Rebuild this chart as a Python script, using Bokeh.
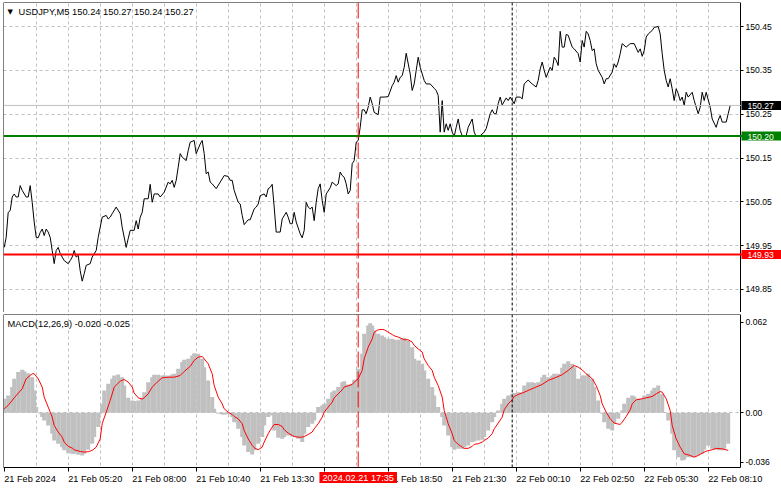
from bokeh.plotting import figure
from bokeh.layouts import column
from bokeh.models import (Range1d, FixedTicker, Span, Label, Grid, NumeralTickFormatter, LinearAxis,
                          BoxAnnotation)
from bokeh.embed import file_html
from bokeh.resources import INLINE

# ---------------- data (bar index = 5-minute bar number from the chart's left edge) -------------
price_bars = [0, 1, 2, 3, 4, 5, 6, 7, 8, 9, 11, 12, 13, 14, 15, 16, 17, 18, 19, 20, 21, 22, 23, 24, 25,
              26, 27, 28, 29, 30, 32, 33, 34, 35, 36, 37, 38, 39, 40, 41, 43, 44, 46, 47, 48, 49, 51, 52,
              53, 54, 56, 58, 59, 61, 62, 63, 65, 66, 67, 68, 69, 70, 72, 73, 74, 75, 77, 78, 80, 82, 83,
              84, 85, 86, 87, 88, 89, 91, 92, 93, 95, 96, 98, 99, 100, 101, 102, 103, 104, 106, 108, 110,
              112, 113, 114, 115, 117, 118, 119, 120, 122, 123, 125, 126, 127, 128, 130, 131, 132, 133,
              134, 135, 136, 138, 139, 141, 142, 143, 144, 145, 146, 148, 149, 150, 151, 152, 153, 154,
              155, 156, 157, 158, 159, 160, 161, 163, 164, 166, 167, 168, 169, 170, 171, 172, 173, 174,
              175, 176, 177, 178, 179, 180, 181, 182, 183, 184, 185, 187, 188, 190, 192, 194, 195, 196,
              197, 198, 199, 200, 201, 203, 204, 205, 206, 207, 208, 210, 211, 213, 215, 216, 217, 218,
              219, 220, 221, 222, 223, 224, 225, 226, 227, 228, 229, 231, 232, 234, 235, 236, 238, 240,
              241, 243, 244, 245, 246, 247, 248, 249, 251, 252, 253, 255, 256, 258, 259, 260, 262, 263,
              264, 266, 267, 268, 269, 270, 271, 273, 274, 275, 276, 277, 278, 279, 280, 281, 282, 284,
              285, 287, 288, 289, 290, 291, 292, 293, 294, 295, 296, 297, 299, 300, 301, 302, 304, 305,
              306, 307, 308, 309, 311, 313, 315, 317, 318, 319, 320, 321, 322, 323, 324, 325, 327, 328,
              329, 330, 331, 332, 333, 334, 335, 336, 337, 338, 339, 340, 341, 342, 344, 345, 347, 348,
              349, 350, 351, 353, 354, 356, 357, 358, 359, 361, 362, 363]
price_close = [149.946, 149.969, 150.026, 150.030, 150.061, 150.068, 150.061, 150.061, 150.087, 150.076,
               150.061, 150.061, 150.087, 150.049, 150.004, 149.969, 149.968, 149.980, 149.988, 149.973,
               149.988, 149.981, 149.969, 149.939, 149.909, 149.939, 149.946, 149.932, 149.924, 149.916,
               149.909, 149.916, 149.924, 149.939, 149.924, 149.928, 149.893, 149.869, 149.886, 149.905,
               149.909, 149.924, 149.939, 149.969, 149.992, 150.015, 150.019, 150.011, 150.015, 150.023,
               150.038, 150.023, 149.992, 149.946, 149.966, 149.985, 149.985, 150.007, 149.988, 150.015,
               150.026, 150.057, 150.057, 150.090, 150.049, 150.068, 150.068, 150.061, 150.072, 150.095,
               150.091, 150.099, 150.083, 150.099, 150.129, 150.160, 150.152, 150.144, 150.167, 150.186,
               150.190, 150.160, 150.182, 150.190, 150.160, 150.114, 150.118, 150.095, 150.091, 150.080,
               150.095, 150.110, 150.108, 150.099, 150.099, 150.076, 150.049, 150.045, 150.019, 149.998,
               150.009, 150.009, 150.034, 150.038, 150.045, 150.064, 150.068, 150.061, 150.080, 150.083,
               150.090, 150.038, 149.981, 149.981, 150.011, 150.026, 150.015, 150.000, 150.000, 150.026,
               150.004, 149.977, 149.968, 149.985, 150.049, 150.038, 150.034, 150.038, 150.007, 150.049,
               150.080, 150.091, 150.053, 150.026, 150.068, 150.082, 150.095, 150.087, 150.091, 150.118,
               150.110, 150.106, 150.091, 150.068, 150.076, 150.137, 150.144, 150.186, 150.190, 150.220,
               150.260, 150.260, 150.251, 150.266, 150.289, 150.274, 150.254, 150.249, 150.289, 150.289,
               150.290, 150.315, 150.323, 150.338, 150.323, 150.334, 150.338, 150.357, 150.389, 150.342,
               150.304, 150.319, 150.350, 150.380, 150.357, 150.327, 150.319, 150.319, 150.309, 150.304,
               150.293, 150.209, 150.281, 150.209, 150.228, 150.213, 150.228, 150.209, 150.199, 150.220,
               150.239, 150.213, 150.201, 150.201, 150.220, 150.239, 150.209, 150.199, 150.201, 150.209,
               150.217, 150.251, 150.260, 150.251, 150.251, 150.274, 150.289, 150.271, 150.287, 150.281,
               150.289, 150.274, 150.289, 150.289, 150.285, 150.319, 150.328, 150.323, 150.319, 150.312,
               150.327, 150.353, 150.369, 150.350, 150.334, 150.357, 150.350, 150.380, 150.373, 150.361,
               150.439, 150.403, 150.403, 150.432, 150.430, 150.403, 150.399, 150.388, 150.369, 150.418,
               150.403, 150.439, 150.433, 150.418, 150.395, 150.399, 150.365, 150.350, 150.334, 150.319,
               150.331, 150.331, 150.346, 150.365, 150.357, 150.369, 150.388, 150.411, 150.403, 150.411,
               150.411, 150.391, 150.399, 150.382, 150.395, 150.426, 150.433, 150.437, 150.441, 150.448,
               150.450, 150.433, 150.388, 150.350, 150.327, 150.312, 150.331, 150.308, 150.281, 150.308,
               150.297, 150.281, 150.289, 150.270, 150.300, 150.289, 150.300, 150.281, 150.251, 150.266,
               150.300, 150.281, 150.300, 150.266, 150.239, 150.220, 150.236, 150.247, 150.232, 150.232,
               150.251, 150.270]

hist_bars = [0, 2, 4, 5, 7, 9, 10, 12, 14, 15, 16, 17, 18, 19, 20, 22, 24, 25, 27, 29, 30, 32, 34, 35, 37,
             39, 40, 42, 44, 45, 47, 48, 49, 50, 52, 54, 55, 57, 59, 60, 62, 64, 65, 67, 69, 70, 72, 74,
             75, 77, 79, 80, 82, 84, 85, 87, 89, 90, 92, 94, 95, 97, 99, 100, 102, 104, 105, 107, 109,
             110, 112, 114, 115, 117, 119, 120, 122, 124, 125, 127, 129, 130, 132, 134, 135, 137, 139,
             140, 142, 144, 145, 147, 149, 150, 152, 154, 155, 157, 159, 160, 162, 164, 165, 167, 169,
             170, 172, 174, 175, 177, 179, 180, 182, 183, 184, 185, 187, 189, 190, 192, 194, 195, 197,
             199, 200, 202, 204, 205, 207, 209, 210, 212, 214, 215, 217, 219, 220, 222, 224, 225, 227,
             229, 230, 232, 234, 235, 237, 239, 240, 242, 244, 245, 247, 249, 250, 252, 254, 255, 257,
             259, 260, 262, 264, 265, 267, 269, 270, 272, 274, 275, 277, 279, 280, 282, 284, 285, 287,
             289, 290, 292, 294, 295, 297, 299, 300, 302, 304, 305, 307, 309, 310, 312, 314, 315, 317,
             319, 320, 322, 324, 325, 327, 329, 330, 332, 334, 335, 337, 339, 340, 342, 344, 345, 347,
             349, 350, 352, 354, 355, 357, 359, 360, 362]
macd_hist = [0.0091, 0.0112, 0.0167, 0.0221, 0.0264, 0.0279, 0.0270, 0.0257, 0.0231, 0.0145, 0.0037,
             0.0, -0.0006, -0.0028, -0.0050, -0.0082, -0.0136, -0.0180, -0.0201, -0.0223, -0.0244,
             -0.0262, -0.0266, -0.0266, -0.0273, -0.0277, -0.0266, -0.0240, -0.0201, -0.0158, -0.0093,
             -0.0006, 0.0058, 0.0145, 0.0188, 0.0221, 0.0242, 0.0249, 0.0231, 0.0177, 0.0097, 0.0080,
             0.0076, 0.0080, 0.0097, 0.0134, 0.0199, 0.0231, 0.0247, 0.0247, 0.0242, 0.0242, 0.0242,
             0.0249, 0.0253, 0.0286, 0.0329, 0.0344, 0.0350, 0.0372, 0.0387, 0.0383, 0.0350, 0.0296,
             0.0210, 0.0102, 0.0026, -0.0006, -0.0011, -0.0011, -0.0011, -0.0028, -0.0061, -0.0104,
             -0.0158, -0.0212, -0.0255, -0.0270, -0.0244, -0.0201, -0.0158, -0.0082, -0.0028, -0.0017,
             -0.0115, -0.0162, -0.0169, -0.0158, -0.0147, -0.0154, -0.0158, -0.0169, -0.0190, -0.0136,
             -0.0093, -0.0071, -0.0050, 0.0037, 0.0048, 0.0058, 0.0091, 0.0134, 0.0145, 0.0167, 0.0199,
             0.0205, 0.0184, 0.0188, 0.0214, 0.0286, 0.0383, 0.0513, 0.0567, 0.0582, 0.0567, 0.0534,
             0.0513, 0.0502, 0.0491, 0.0480, 0.0480, 0.0474, 0.0474, 0.0480, 0.0487, 0.0469, 0.0426,
             0.0350, 0.0340, 0.0318, 0.0275, 0.0221, 0.0167, 0.0112, 0.0037, -0.0028, -0.0082, -0.0147,
             -0.0223, -0.0240, -0.0234, -0.0234, -0.0223, -0.0212, -0.0190, -0.0184, -0.0180, -0.0175,
             -0.0158, -0.0115, -0.0061, -0.0028, 0.0015, 0.0058, 0.0091, 0.0112, 0.0123, 0.0128, 0.0134,
             0.0134, 0.0177, 0.0199, 0.0199, 0.0193, 0.0199, 0.0231, 0.0247, 0.0231, 0.0242, 0.0253,
             0.0253, 0.0292, 0.0318, 0.0335, 0.0318, 0.0296, 0.0221, 0.0242, 0.0242, 0.0253, 0.0221,
             0.0167, 0.0080, -0.0006, -0.0061, -0.0104, -0.0115, -0.0071, -0.0039, 0.0015, 0.0058,
             0.0097, 0.0112, 0.0106, 0.0091, 0.0091, 0.0112, 0.0123, 0.0145, 0.0162, 0.0177, 0.0123,
             0.0004, -0.0050, -0.0136, -0.0244, -0.0288, -0.0309, -0.0305, -0.0288, -0.0288, -0.0288,
             -0.0277, -0.0266, -0.0240, -0.0212, -0.0234, -0.0240, -0.0244, -0.0244, -0.0234, -0.0201]

signal_bars = [0, 2, 5, 9, 11, 14, 15, 17, 19, 20, 22, 24, 25, 27, 29, 30, 32, 34, 35, 38, 40, 42, 44, 46,
               48, 49, 51, 53, 55, 58, 60, 62, 64, 65, 67, 69, 70, 72, 74, 77, 79, 82, 85, 88, 90, 93, 95,
               97, 99, 100, 102, 104, 105, 107, 109, 110, 112, 114, 115, 117, 119, 120, 122, 124, 125, 127,
               129, 130, 132, 134, 135, 137, 139, 140, 142, 144, 145, 147, 149, 150, 152, 154, 155, 157,
               159, 160, 162, 164, 165, 167, 169, 170, 172, 174, 175, 177, 179, 180, 182, 184, 185, 187,
               189, 190, 192, 194, 195, 197, 199, 200, 202, 204, 205, 207, 209, 210, 212, 214, 215, 217,
               219, 220, 222, 224, 225, 227, 229, 230, 232, 234, 235, 237, 239, 240, 242, 244, 245, 247,
               249, 250, 252, 254, 255, 257, 259, 262, 265, 269, 272, 275, 279, 282, 285, 287, 289, 291,
               294, 296, 298, 299, 301, 303, 305, 308, 309, 311, 313, 314, 316, 319, 321, 324, 326, 328,
               329, 331, 333, 334, 336, 338, 340, 343, 345, 347, 349, 351, 354, 356, 359, 362]
macd_signal = [0.0026, 0.0048, 0.0097, 0.0156, 0.0221, 0.0253, 0.0253, 0.0221, 0.0167, 0.0102, 0.0037,
               -0.0028, -0.0082, -0.0125, -0.0158, -0.0190, -0.0218, -0.0229, -0.0240, -0.0251, -0.0255,
               -0.0253, -0.0244, -0.0223, -0.0169, -0.0071, 0.0004, 0.0080, 0.0167, 0.0205, 0.0216,
               0.0199, 0.0167, 0.0128, 0.0097, 0.0089, 0.0097, 0.0123, 0.0167, 0.0205, 0.0227, 0.0231,
               0.0231, 0.0242, 0.0268, 0.0301, 0.0340, 0.0361, 0.0366, 0.0350, 0.0318, 0.0253, 0.0177,
               0.0102, 0.0058, 0.0026, 0.0004, -0.0011, -0.0024, -0.0039, -0.0071, -0.0115, -0.0169,
               -0.0212, -0.0227, -0.0240, -0.0223, -0.0190, -0.0136, -0.0093, -0.0076, -0.0076, -0.0089,
               -0.0110, -0.0132, -0.0147, -0.0154, -0.0158, -0.0158, -0.0154, -0.0141, -0.0125, -0.0104,
               -0.0071, -0.0028, 0.0004, 0.0037, 0.0069, 0.0097, 0.0123, 0.0149, 0.0167, 0.0175, 0.0184,
               0.0199, 0.0221, 0.0275, 0.0350, 0.0426, 0.0480, 0.0523, 0.0539, 0.0541, 0.0539, 0.0523,
               0.0508, 0.0500, 0.0491, 0.0480, 0.0474, 0.0474, 0.0459, 0.0437, 0.0415, 0.0394, 0.0350,
               0.0307, 0.0275, 0.0231, 0.0177, 0.0102, 0.0015, -0.0071, -0.0136, -0.0180, -0.0205,
               -0.0223, -0.0231, -0.0231, -0.0218, -0.0205, -0.0201, -0.0190, -0.0180, -0.0164, -0.0136,
               -0.0104, -0.0067, -0.0028, 0.0019, 0.0058, 0.0084, 0.0106, 0.0119, 0.0128, 0.0145, 0.0162,
               0.0184, 0.0210, 0.0225, 0.0247, 0.0275, 0.0307, 0.0296, 0.0279, 0.0253, 0.0221, 0.0177,
               0.0112, 0.0058, 0.0004, -0.0039, -0.0067, -0.0076, -0.0061, -0.0024, 0.0019, 0.0058,
               0.0084, 0.0091, 0.0097, 0.0106, 0.0123, 0.0138, 0.0134, 0.0091, 0.0015, -0.0082, -0.0169,
               -0.0223, -0.0266, -0.0277, -0.0288, -0.0277, -0.0262, -0.0249, -0.0240, -0.0231, -0.0234,
               -0.0244]

time_tick_bars = [0, 32, 64, 96, 128, 160, 192, 224, 256, 288, 320, 352]
time_tick_labels = ["21 Feb 2024", "21 Feb 05:20", "21 Feb 08:00", "21 Feb 10:40", "21 Feb 13:30",
                    "21 Feb 16:10", "21 Feb 18:50", "21 Feb 21:30", "22 Feb 00:10", "22 Feb 02:50",
                    "22 Feb 05:30", "22 Feb 08:10"]
grid_bars = list(range(16, 368, 16))
price_ticks = [149.85, 149.95, 150.05, 150.15, 150.25, 150.35, 150.45]
macd_tick_vals = [0.0588, 0.0, -0.0321]
macd_tick_labels = ["0.062", "0.00", "-0.036"]

resistance = 150.20
support = 149.93
bid = 150.27
event_bar = 177          # 2024.02.21 17:35
event_label = "2024.02.21 17:35"
day_sep_bar = 254        # 22 Feb 00:00
header = "USDJPY,M5  150.24 150.27 150.24 150.27"
macd_header = "MACD(12,26,9) -0.020 -0.025"

# ---------------- geometry / styling ----------------
FONT = "Liberation Sans"
FS = "8.6px"
GRID = "#C0C0C0"
W = 781

x_range = Range1d(-0.35, 388.65)        # frame spans the whole width; price scale sits at AXIS_X
AXIS_X = 368.15                         # right edge of the chart area (bar units)
price_range = Range1d(149.7975, 150.5048)
MACD_TOP = 0.0638
MACD_BOTTOM = -0.0355                   # bottom edge of the indicator window
macd_range = Range1d(-0.0498, MACD_TOP)  # extra room below for the time scale

HAS_PAD = "padding" in Label.properties()


def box_label(x, y, text, bg, align="left", x_offset=0, y_offset=0, pad=None, size=FS):
    kw = dict(x=x, y=y, x_offset=x_offset, y_offset=y_offset, text=text, text_font=FONT,
              text_font_size=size, text_color="white", text_align=align, text_baseline="middle",
              background_fill_color=bg, background_fill_alpha=1.0)
    if HAS_PAD and pad is not None:
        kw["padding"] = pad
    return Label(**kw)


def border_axis(fixed, bounds):
    return LinearAxis(fixed_location=fixed, bounds=bounds, ticker=FixedTicker(ticks=[]),
                      axis_line_color="black", major_tick_line_color=None,
                      minor_tick_line_color=None, major_label_text_font_size="0px")


def base_figure(height, y_range, top_border):
    p = figure(width=W, height=height, x_range=x_range, y_range=y_range,
               output_backend="svg", toolbar_location=None,
               x_axis_location=None, y_axis_location=None,
               min_border_left=3, min_border_right=0, min_border_top=top_border, min_border_bottom=0)
    p.grid.visible = False
    p.outline_line_color = None
    p.background_fill_color = "white"
    p.border_fill_color = "white"
    return p


def style_value_axis(ax):
    ax.axis_line_color = "black"
    ax.major_tick_out = 3
    ax.major_tick_in = 0
    ax.minor_tick_out = 0
    ax.minor_tick_in = 0
    ax.major_tick_line_color = "black"
    ax.major_label_standoff = 2
    ax.major_label_text_font = FONT
    ax.major_label_text_font_size = FS
    ax.major_label_text_color = "black"


# ---------------- price panel ----------------
p1 = base_figure(312, price_range, 2)
p1.add_layout(Grid(dimension=0, ticker=FixedTicker(ticks=grid_bars),
                   grid_line_color=GRID, grid_line_dash="3 3"))
p1.add_layout(Grid(dimension=1, ticker=FixedTicker(ticks=price_ticks),
                   grid_line_color=GRID, grid_line_dash="3 3"))
p1.add_layout(BoxAnnotation(left=AXIS_X, fill_color="white", fill_alpha=1.0, line_color=None,
                            level="underlay"))

p1.add_layout(Span(location=bid, dimension="width", line_color="#C0C0C0", line_width=1))
p1.add_layout(Span(location=resistance, dimension="width", line_color="#008000", line_width=2))
p1.add_layout(Span(location=support, dimension="width", line_color="#FF0000", line_width=2))
p1.add_layout(Span(location=event_bar, dimension="height", line_color="#FF0000", line_width=1,
                   line_dash="16 4"))
p1.add_layout(Span(location=day_sep_bar, dimension="height", line_color="black", line_width=1,
                   line_dash="3 2"))

p1.line(price_bars, price_close, line_color="black", line_width=1)

pa = LinearAxis(fixed_location=AXIS_X, ticker=FixedTicker(ticks=price_ticks),
                formatter=NumeralTickFormatter(format="0.00"))
style_value_axis(pa)
p1.add_layout(pa, "right")
p1.add_layout(border_axis(x_range.start, "auto"), "left")
p1.add_layout(border_axis(price_range.end, (x_range.start, AXIS_X)), "above")
p1.add_layout(border_axis(price_range.start, (x_range.start, AXIS_X)), "below")

for val, bg in [(bid, "black"), (resistance, "#008000"), (support, "#FF0000")]:
    p1.add_layout(box_label(AXIS_X, val, f"{val:.2f}", bg, x_offset=1,
                            pad=dict(left=6, right=8, top=2, bottom=1)))

p1.add_layout(Label(x=x_range.start, y=price_range.end, x_offset=4, y_offset=-9, text="\u25bc",
                    text_font="DejaVu Sans", text_font_size="7px", text_color="black",
                    text_baseline="middle"))
p1.add_layout(Label(x=x_range.start, y=price_range.end, x_offset=15, y_offset=-9, text=header,
                    text_font=FONT, text_font_size="9.3px", text_color="black",
                    text_baseline="middle"))

# ---------------- MACD panel ----------------
p2 = base_figure(177, macd_range, 2)
p2.add_layout(Grid(dimension=0, ticker=FixedTicker(ticks=grid_bars),
                   grid_line_color=GRID, grid_line_dash="3 3"))
p2.add_layout(Grid(dimension=1, ticker=FixedTicker(ticks=[0.0]),
                   grid_line_color=GRID, grid_line_dash="3 3"))
p2.add_layout(BoxAnnotation(left=AXIS_X, fill_color="white", fill_alpha=1.0, line_color=None,
                            level="underlay"))
p2.add_layout(BoxAnnotation(top=MACD_BOTTOM, fill_color="white", fill_alpha=1.0, line_color=None,
                            level="underlay"))

p2.vbar(x=hist_bars, top=macd_hist, bottom=0, width=2.0, fill_color="#C0C0C0", line_color=None)
p2.line(signal_bars, macd_signal, line_color="#FF0000", line_width=1)
p2.segment(x0=[event_bar], x1=[event_bar], y0=[MACD_BOTTOM], y1=[MACD_TOP], line_color="#FF0000",
           line_width=1, line_dash="16 4")
p2.segment(x0=[day_sep_bar], x1=[day_sep_bar], y0=[MACD_BOTTOM], y1=[MACD_TOP], line_color="black",
           line_width=1, line_dash="3 2")

ma = LinearAxis(fixed_location=AXIS_X, bounds=(MACD_BOTTOM, MACD_TOP),
                ticker=FixedTicker(ticks=macd_tick_vals),
                major_label_overrides={v: t for v, t in zip(macd_tick_vals, macd_tick_labels)})
style_value_axis(ma)
p2.add_layout(ma, "right")
p2.add_layout(border_axis(x_range.start, (MACD_BOTTOM, MACD_TOP)), "left")
p2.add_layout(border_axis(MACD_TOP, (x_range.start, AXIS_X)), "above")

ta = LinearAxis(fixed_location=MACD_BOTTOM, bounds=(x_range.start, AXIS_X),
                ticker=FixedTicker(ticks=time_tick_bars),
                major_label_overrides={b: t for b, t in zip(time_tick_bars, time_tick_labels)})
ta.axis_line_color = "black"
ta.major_tick_out = 4
ta.major_tick_in = 0
ta.minor_tick_out = 0
ta.minor_tick_in = 0
ta.major_tick_line_color = "black"
ta.major_label_standoff = 8
ta.major_label_orientation = -1e-6
ta.major_label_text_font = FONT
ta.major_label_text_font_size = "9.2px"
ta.major_label_text_color = "black"
p2.add_layout(ta, "below")

p2.add_layout(Label(x=x_range.start, y=MACD_TOP, x_offset=4, y_offset=-9, text=macd_header,
                    text_font=FONT, text_font_size="9.3px", text_color="black",
                    text_baseline="middle"))
p2.add_layout(box_label(event_bar, MACD_BOTTOM, event_label, "#FF0000", align="center",
                        y_offset=-10, pad=dict(left=3, right=3, top=1, bottom=0), size="9.2px"))

layout = column(p1, p2, spacing=0)
open("out.html", "w").write(file_html(layout, INLINE))
